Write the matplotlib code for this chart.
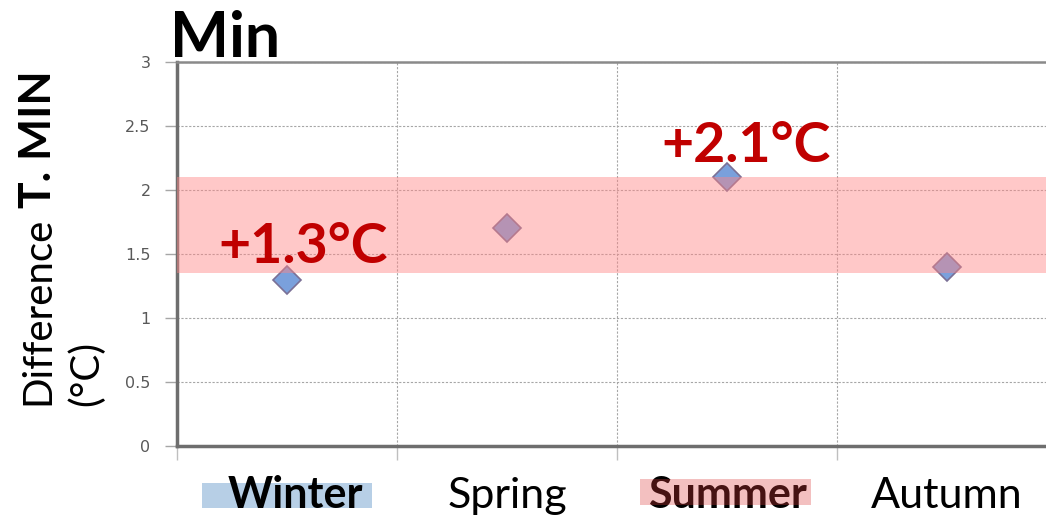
import matplotlib
matplotlib.use("Agg")
import matplotlib.pyplot as plt
from matplotlib.patches import Rectangle
from matplotlib.transforms import blended_transform_factory

# Data
seasons = ["Winter", "Spring", "Summer", "Autumn"]
diff_min = [1.3, 1.7, 2.1, 1.4]
band_low, band_high = 1.35, 2.1
annotations = [("+1.3°C", -0.31, 1.43), ("+2.1°C", 1.70, 2.22)]
y_ticks = [0, 0.5, 1, 1.5, 2, 2.5, 3]
y_ticklabels = ["0", "0.5", "1", "1.5", "2", "2.5", "3"]

W, H = 1046, 519
fig = plt.figure(figsize=(W / 100, H / 100), dpi=100)
ax = fig.add_axes([177 / W, 1 - 446 / H, 880 / W, 384 / H])

ax.set_xlim(-0.5, 3.5)
ax.set_ylim(0, 3)

# grid
ax.set_xticks([-0.5, 0.5, 1.5, 2.5, 3.5])
ax.set_xticklabels([])
ax.set_yticks(y_ticks)
ax.set_yticklabels(y_ticklabels, fontsize=11.5, color="#595959", family="DejaVu Sans")
ax.grid(True, which="major", color="#a6a6a6", linestyle=(0, (2, 1.5)), linewidth=0.8)
ax.tick_params(axis="y", length=9, width=1, color="#a6a6a6", pad=10)
ax.tick_params(axis="x", length=10, width=1, color="#bfbfbf", direction="out")

for s in ["left", "bottom"]:
    ax.spines[s].set_color("#6e6e6e")
    ax.spines[s].set_linewidth(2.5)
ax.spines["top"].set_color("#8a8a8a")
ax.spines["top"].set_linewidth(1.8)
ax.spines["right"].set_visible(False)

# markers
ax.plot(range(len(seasons)), diff_min, linestyle="none", marker="D", markersize=14,
        markerfacecolor="#7aa0dc", markeredgecolor="#7a7096", markeredgewidth=1.2,
        zorder=3, clip_on=False)

# band
ax.axhspan(band_low, band_high, color="#ff8585", alpha=0.45, linewidth=0, zorder=4)

# annotations
for txt, x, y in annotations:
    ax.text(x, y, txt, color="#c00000", fontsize=40, fontweight="bold",
            family="Lato", ha="left", va="baseline", zorder=6)

# category labels
trans = blended_transform_factory(ax.transData, ax.transAxes)
for i, name in enumerate(seasons):
    bold = name in ("Winter", "Summer")
    ax.text(i + 0.04 if name == "Winter" else i, -0.162, name, transform=trans,
            ha="center", va="baseline", fontsize=31,
            fontweight="bold" if bold else "normal", family="Lato",
            color="black", clip_on=False, zorder=5)

# highlight boxes for labels
ax.add_patch(Rectangle((202 / W, 1 - 508 / H), 170 / W, 25 / H,
                       transform=fig.transFigure, facecolor="#b7cfe6",
                       edgecolor="none", zorder=1, clip_on=False))
ax.add_patch(Rectangle((640 / W, 1 - 505 / H), 171 / W, 26 / H,
                       transform=fig.transFigure, facecolor="#dc3c3c",
                       alpha=0.32, edgecolor="none", zorder=10, clip_on=False))

# title
fig.text(170 / W, 1 - 57 / H, "Min", fontsize=45, fontweight="bold", family="Lato",
         ha="left", va="baseline")

# y label (regular + bold parts, second line bottom-aligned)
fig.text(38 / W, 1 - 405 / H, "Difference", rotation=90, fontsize=29,
         family="Lato", ha="center", va="bottom")
fig.text(38 / W, 1 - 70 / H, "T. MIN", rotation=90, fontsize=32, fontweight="bold",
         family="Lato", ha="center", va="top")
fig.text(86 / W, 1 - 406 / H, "(°C)", rotation=90, fontsize=29,
         family="Lato", ha="center", va="bottom")

fig.savefig("out.png", dpi=100)
